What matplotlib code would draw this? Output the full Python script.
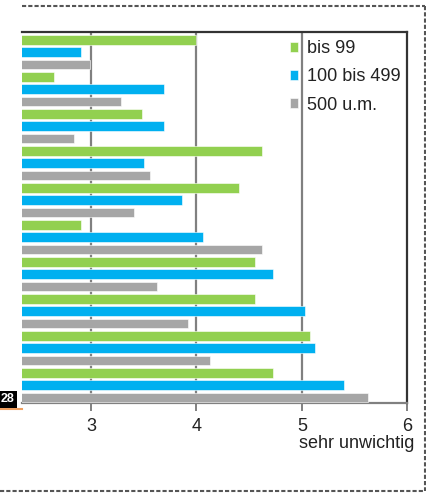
import numpy as np
import matplotlib.pyplot as plt
from matplotlib.lines import Line2D

plt.rcParams['font.family'] = ['Liberation Sans', 'DejaVu Sans']

# ===================== Daten =====================
SERIES = ['bis 99', '100 bis 499', '500 u.m.']
COLORS = ['#92d050', '#00b0f0', '#a6a6a6']

bis_99 = [4.00, 2.65, 3.48, 4.62, 4.40, 2.90, 4.56, 4.56, 5.08, 4.73]
bis_499 = [2.90, 3.69, 3.69, 3.50, 3.86, 4.06, 4.73, 5.03, 5.12, 5.40]
ab_500 = [2.99, 3.28, 2.84, 3.56, 3.41, 4.62, 3.63, 3.92, 4.13, 5.63]

X_TICKS = [3, 4, 5, 6]
X_LABEL = 'sehr unwichtig'

W, H = 427, 493
fig = plt.figure(figsize=(W / 100, H / 100), dpi=100)
ax = fig.add_axes([22 / W, 1 - 403 / H, (407.3 - 22) / W, (403 - 32) / H])

n = len(bis_99)
base = np.arange(n) * 3
for k, (vals, col, lab) in enumerate(zip([bis_99, bis_499, ab_500], COLORS, SERIES)):
    ax.barh(base + k, vals, height=0.8, color=col, edgecolor='white',
            linewidth=0.4, label=lab, zorder=3)

ax.set_xlim(2.345, 6)
ax.set_ylim(29.45, -0.64)
ax.set_xticks(X_TICKS)
ax.set_xticklabels([str(t) for t in X_TICKS], fontsize=13, color='#222222')
ax.set_yticks([])
for g in [3, 4, 5]:
    ax.axvline(g, color='#808080', lw=1.6, zorder=1)

ax.spines['left'].set_visible(False)
ax.spines['top'].set_color('#333333')
ax.spines['right'].set_color('#333333')
ax.spines['top'].set_linewidth(1.6)
ax.spines['right'].set_linewidth(1.6)
ax.spines['bottom'].set_color('#808080')
ax.spines['bottom'].set_linewidth(1.6)
ax.tick_params(axis='x', direction='out', length=6, width=1.4, color='#808080', pad=4.5)

fig.text(414 / W, 1 - 444 / H, X_LABEL, ha='right', va='center', fontsize=13, color='#222222')

leg = ax.legend(loc='upper left', bbox_to_anchor=((283 - 22) / 385.3, 1 - 1 / 371),
                frameon=False, fontsize=13, handlelength=0.45, handleheight=0.45,
                handletextpad=0.5, labelspacing=0.62, borderaxespad=0)
for t in leg.get_texts():
    t.set_color('#222222')

# Randreste links unten
fig.text(1 / W, 1 - 399 / H, '28', ha='left', va='center', fontsize=9, color='white',
         fontweight='bold', bbox=dict(boxstyle='square,pad=0.2', fc='black', ec='none'))
fig.add_artist(Line2D([0, 22 / W], [1 - 409 / H] * 2, color='#f0a060', lw=1.5))

# gestrichelter Rahmen
dash = dict(color='#555555', lw=1.5, linestyle=(0, (2, 1)))
fig.add_artist(Line2D([22 / W, 425 / W], [1 - 6 / H] * 2, **dash))
fig.add_artist(Line2D([425 / W] * 2, [1 - 6 / H, 1 - 491 / H], **dash))
fig.add_artist(Line2D([0, 425 / W], [1 - 491 / H] * 2, **dash))

fig.savefig('out.png', dpi=100)
